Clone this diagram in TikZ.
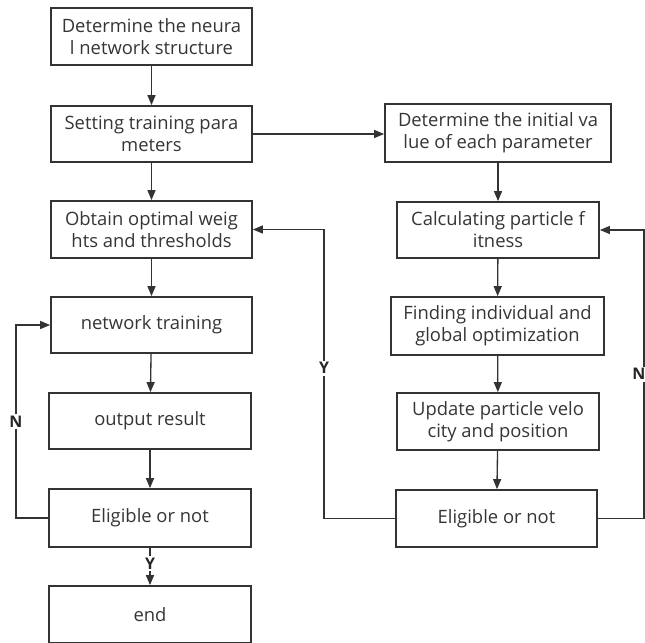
\documentclass[tikz,border=0pt]{standalone}
\usepackage{fontspec}
\setmainfont{Open Sans}
\usetikzlibrary{arrows.meta}
\definecolor{linegray}{HTML}{333333}
\definecolor{textgray}{HTML}{353535}
\tikzset{
  box/.style={draw=linegray, line width=1.3pt, align=center, inner sep=0pt,
    text=textgray, font=\fontsize{13.8}{16.5}\selectfont},
  sz/.style 2 args={minimum width=#1*0.75pt, minimum height=#2*0.75pt},
  flow/.style={draw=linegray, line width=1pt, -{Triangle[length=7.5pt,width=6pt]}},
  yn/.style={fill=white, inner sep=1.5pt, text=black!85,
    font=\bfseries\fontsize{12}{12}\selectfont}
}

\begin{document}
\begin{tikzpicture}[x=0.75pt,y=-0.75pt]
	\clip (0,0) rectangle (645,642);
	% left column
	\node[box,sz={201}{57}] (struct) at (151.5,36.5) {Determine the neura\\l network structure};
	\node[box,sz={201}{56}] (param) at (151.5,134) {Setting training para\\meters};
	\node[box,sz={201}{57}] (weights) at (151.5,229.5) {Obtain optimal weig\\hts and thresholds};
	\node[box,sz={201}{56}] (train) at (151.5,325) {network training};
	\node[box,sz={202}{56}] (result) at (150,421) {output result};
	\node[box,sz={202}{58}] (check) at (150,518) {Eligible or not};
	\node[box,sz={202}{57}] (end) at (150,614.5) {end};
	% right column
	\node[box,sz={226}{58}] (init) at (498,133) {Determine the initial va\\lue of each parameter};
	\node[box,sz={202}{56}] (fit) at (498,230) {Calculating particle f\\itness};
	\node[box,sz={213}{58}] (best) at (497.5,326) {Finding individual and\\global optimization};
	\node[box,sz={202}{57}] (update) at (498,421.5) {Update particle velo\\city and position};
	\node[box,sz={201}{57}] (pcheck) at (496.5,518.5) {Eligible or not};
	\coordinate (ytop) at (324,229.5);
	\coordinate (ntop) at (644,230);
	\coordinate (nleft) at (16,325);

	\draw[flow] (struct) -- (param);
	\draw[flow] (param) -- (weights);
	\draw[flow] (weights) -- (train);
	\draw[flow] (train) -- (result);
	\draw[flow] (result) -- (check);
	\draw[flow] (check) -- node[yn,pos=0.42] {Y} (end);
	\draw[flow] (param.east) -- (init.west |- param.east);
	\draw[flow] (init) -- (fit);
	\draw[flow] (fit) -- (best);
	\draw[flow] (best) -- (update);
	\draw[flow] (update) -- (pcheck);
	% loops back
	\draw[flow] (pcheck.west) -| node[yn,pos=0.76] {Y} (ytop) -- (weights.east);
	\draw[flow] (pcheck.east) -| node[yn,pos=0.75,anchor=east,xshift=3pt] {N} (ntop) -- (fit.east);
	\draw[flow] (check.west) -| node[yn,pos=0.75] {N} (nleft) -- (train.west);
\end{tikzpicture}
\end{document}
